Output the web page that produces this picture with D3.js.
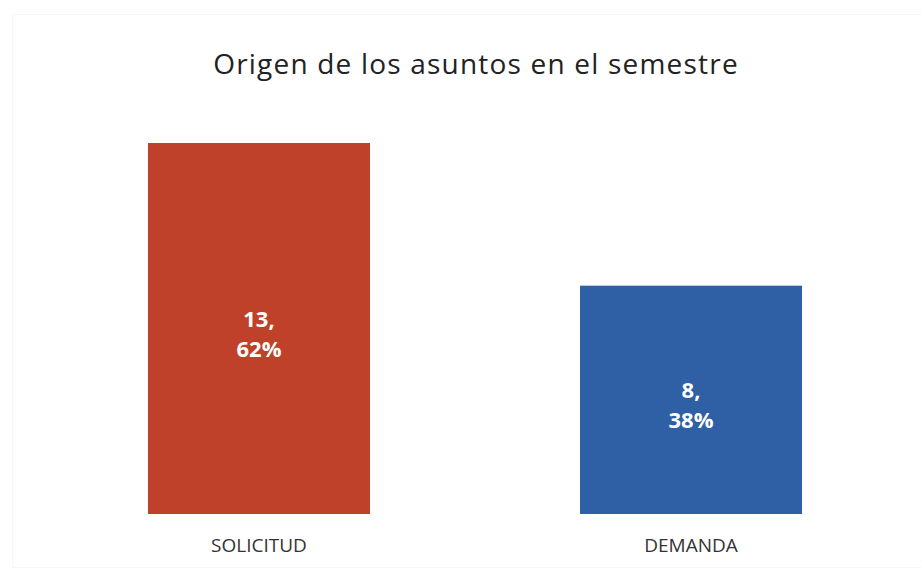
<!DOCTYPE html>
<html lang="es">
<head>
<meta charset="UTF-8">
<title>Origen de los asuntos en el semestre</title>
<script src="https://d3js.org/d3.v7.min.js"></script>
<style>
    body { margin: 0; background: #fff; }
    svg { display: block; font-family: "Open Sans", "Noto Sans", sans-serif; }
</style>
</head>
<body>
<div id="chart"></div>
<script>
const categories = ["SOLICITUD", "DEMANDA"];
const values = [13, 8];
const percents = ["62%", "38%"];
const colors = ["#C0412A", "#2F5FA4"];

const width = 922, height = 574;
const svg = d3.select("#chart").append("svg")
    .attr("width", width)
    .attr("height", height);

// faint chart-area border
svg.append("rect")
    .attr("x", 12.5).attr("y", 14.5)
    .attr("width", 920).attr("height", 553)
    .attr("fill", "none")
    .attr("stroke", "#f7f7f7");

svg.append("text")
    .attr("x", 476)
    .attr("y", 74)
    .attr("text-anchor", "middle")
    .style("font-size", "28px")
    .style("letter-spacing", "1.2px")
    .style("fill", "#222")
    .text("Origen de los asuntos en el semestre");

const x = d3.scaleBand()
    .domain(categories)
    .range([43, 907])
    .paddingInner(0.486)
    .paddingOuter(0.243);

const y = d3.scaleLinear()
    .domain([0, 13])
    .range([514, 143]);

const data = categories.map((c, i) => ({ cat: c, value: values[i], pct: percents[i], color: colors[i] }));

svg.selectAll(".bar")
    .data(data)
    .enter().append("rect")
    .attr("class", "bar")
    .attr("x", d => x(d.cat))
    .attr("y", d => y(d.value))
    .attr("width", x.bandwidth())
    .attr("height", d => y(0) - y(d.value))
    .attr("fill", d => d.color);

const labels = svg.selectAll(".lbl")
    .data(data)
    .enter().append("text")
    .attr("class", "lbl")
    .attr("text-anchor", "middle")
    .style("font-size", "22px")
    .style("font-weight", "bold")
    .style("fill", "#fff");

labels.append("tspan")
    .attr("x", d => x(d.cat) + x.bandwidth() / 2)
    .attr("y", d => (y(d.value) + y(0)) / 2 - 2)
    .text(d => d.value + ",");
labels.append("tspan")
    .attr("x", d => x(d.cat) + x.bandwidth() / 2)
    .attr("y", d => (y(d.value) + y(0)) / 2 + 28)
    .text(d => d.pct);

svg.append("g")
    .attr("transform", "translate(0,514)")
    .call(d3.axisBottom(x).tickSize(0).tickPadding(23))
    .call(g => g.select(".domain").remove())
    .selectAll("text")
    .attr("dy", "0")
    .attr("y", 38)
    .style("font-size", "19px")
    .style("font-family", "\"Open Sans\", sans-serif")
    .style("fill", "#333");
</script>
</body>
</html>
